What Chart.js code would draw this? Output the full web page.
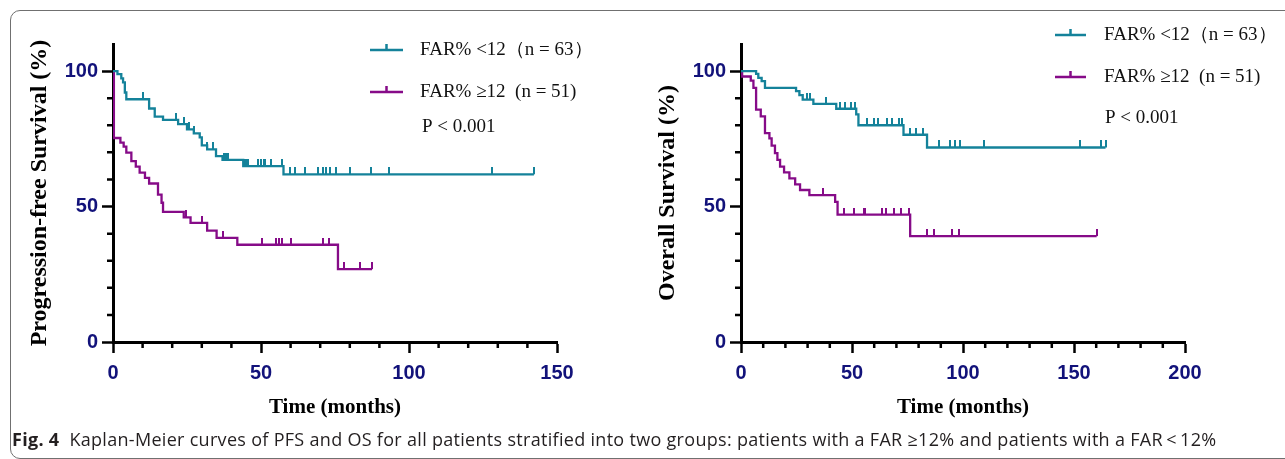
<!DOCTYPE html>
<html>
<head>
<meta charset="utf-8">
<script src="https://cdn.jsdelivr.net/npm/chart.js@4"></script>
<style>
  html, body { margin: 0; padding: 0; background: #fff; }
  body { width: 1285px; height: 459px; position: relative; overflow: hidden; }
  #frame { position: absolute; left: 10px; top: 10px; width: 1300px; height: 447px;
           border: 1px solid #707070; border-radius: 10px; }
  canvas { position: absolute; top: 0; }
  #pfsChart { left: 0; }
  #osChart { left: 640px; }
  #caption { position: absolute; left: 12px; top: 427px; font-family: 'Open Sans', sans-serif;
             font-size: 18px; letter-spacing: 0.3px; color: #231f20; white-space: nowrap; }
  #caption b { font-weight: 700; }
</style>
</head>
<body>
<div id="frame"></div>
<canvas id="pfsChart" width="640" height="459"></canvas>
<canvas id="osChart" width="645" height="459"></canvas>
<div id="caption"><b>Fig. 4</b>&nbsp; Kaplan-Meier curves of PFS and OS for all patients stratified into two groups: patients with a FAR ≥12% and patients with a FAR&#8201;&lt;&#8201;12%</div>

<script>
const TEAL = '#14829a';
const PURPLE = '#860b88';
const NAVY = '#12127a';

const groupLabels = ['FAR% <12（n = 63）', 'FAR% ≥12  (n = 51)'];
const pValueText = 'P < 0.001';

const yTickLabels = [0, 50, 100];
const yMinor = [10, 20, 30, 40, 60, 70, 80, 90];

// PFS, FAR% < 12
const pfsLowTimes = [1.5, 2.8, 3.4, 4.0, 4.5, 12.2, 14.1, 16.9, 22.0, 25.0, 27.3, 29.3, 30.0, 31.8, 34.8, 37.0, 44.0, 57.6];
const pfsLowSurv  = [98.9, 97.3, 95.8, 92.1, 89.6, 86.2, 83.2, 82.0, 80.4, 78.5, 77.0, 75.5, 72.6, 71.1, 68.6, 67.2, 64.9, 61.9];
const pfsLowEnd = 142.2;
const pfsLowCensor = [10.2, 21.2, 24, 25.7, 27.3, 31.8, 33.9, 37.5, 38.3, 39, 44.6, 45.2, 45.7, 49, 50, 51, 51.4, 53.3, 57,
                      59.8, 61.4, 65, 69.4, 71, 72, 73.4, 75.2, 80, 87, 93.2, 128.2, 142.2];
// PFS, FAR% >= 12
const pfsHighTimes = [0.3, 2.5, 3.6, 4.5, 6.2, 7.7, 9.0, 10.8, 12.2, 15.2, 16.4, 16.9, 23.9, 26.2, 31.8, 35.0, 42.0, 76.0];
const pfsHighSurv  = [75.3, 73.6, 72.1, 69.9, 66.8, 64.7, 62.5, 60.6, 58.5, 54.4, 51.4, 48.0, 46.0, 44.0, 41.1, 38.4, 35.9, 26.9];
const pfsHighEnd = 87.5;
const pfsHighCensor = [24.6, 30, 37.2, 50.2, 55, 56, 57, 60, 70.9, 73.1, 78, 83.3, 87.5];
const pfsXTicks = [0, 50, 100, 150];
const pfsXMinor = [10, 20, 30, 40, 60, 70, 80, 90, 110, 120, 130, 140];

// OS, FAR% < 12
const osLowTimes = [6.8, 7.8, 9.3, 10.8, 24.8, 26.3, 27.8, 32.6, 42.9, 51.9, 52.9, 73.2, 83.8];
const osLowSurv  = [99.0, 97.5, 96.3, 93.8, 92.6, 91.1, 89.5, 87.9, 86.1, 84.0, 80.0, 76.5, 71.8];
const osLowEnd = 164.2;
const osLowCensor = [29.6, 31.2, 38.3, 44.7, 47, 49.6, 51.4, 56.7, 59.7, 61.6, 65.7, 68, 71, 72.5, 76.2, 79, 82, 89,
                     94.3, 96.5, 98.8, 109.3, 152.9, 162, 164.2];
// OS, FAR% >= 12
const osHighTimes = [0.5, 4.4, 5.6, 6.8, 8.9, 10.8, 12.8, 13.8, 15.3, 16.4, 17.6, 19.4, 21.8, 24.4, 26.6, 30.8, 42.4, 43.5, 76.2];
const osHighSurv  = [98.0, 96.5, 93.8, 85.8, 83.3, 77.1, 75.2, 72.5, 69.7, 67.2, 64.7, 62.6, 60.4, 58.2, 56.1, 54.2, 51.7, 47.0, 39.1];
const osHighEnd = 160.2;
const osHighCensor = [36.8, 46.2, 51, 55.2, 56, 63.5, 65.4, 68.7, 72, 75.5, 84, 87, 95, 98, 160.2];
const osXTicks = [0, 50, 100, 150, 200];
const osXMinor = [10, 20, 30, 40, 60, 70, 80, 90, 110, 120, 130, 140, 160, 170, 180, 190];

function kmSteps(times, surv, end) {
  const pts = [{x: 0, y: 100}];
  times.forEach((t, i) => pts.push({x: t, y: surv[i]}));
  pts.push({x: end, y: surv[surv.length - 1]});
  return pts;
}

function survAt(times, surv, t) {
  let s = 100;
  times.forEach((ti, i) => { if (ti <= t) s = surv[i]; });
  return s;
}

// small upward tick for censored patients
function censorMark(color) {
  const c = document.createElement('canvas');
  c.width = 2; c.height = 14;
  const g = c.getContext('2d');
  g.fillStyle = color;
  g.fillRect(0, 0, 2, 7);
  return c;
}

function kmDatasets(times1, surv1, end1, cens1, times2, surv2, end2, cens2) {
  const line = (label, color, data) => ({
    label: label, data: data, borderColor: color, borderWidth: 2.3,
    stepped: 'before', pointRadius: 0, fill: false
  });
  const marks = (color, times, surv, cens) => ({
    label: '', data: cens.map(t => ({x: t, y: survAt(times, surv, t)})),
    showLine: false, pointStyle: censorMark(color), pointRadius: 3, borderColor: color
  });
  return [
    line(groupLabels[0], TEAL, kmSteps(times1, surv1, end1)),
    line(groupLabels[1], PURPLE, kmSteps(times2, surv2, end2)),
    marks(TEAL, times1, surv1, cens1),
    marks(PURPLE, times2, surv2, cens2)
  ];
}

const minorTicks = {
  id: 'minorTicks',
  afterDraw(chart, args, opts) {
    const ctx = chart.ctx, xs = chart.scales.x, ys = chart.scales.y;
    ctx.save();
    ctx.strokeStyle = '#000';
    ctx.lineWidth = 2.5;
    ctx.beginPath();
    opts.x.forEach(v => {
      const px = xs.getPixelForValue(v);
      ctx.moveTo(px, ys.bottom); ctx.lineTo(px, ys.bottom + 6);
    });
    opts.y.forEach(v => {
      const py = ys.getPixelForValue(v);
      ctx.moveTo(xs.left, py); ctx.lineTo(xs.left - 6, py);
    });
    ctx.stroke();
    ctx.restore();
  }
};

const kmLegend = {
  id: 'kmLegend',
  afterDraw(chart, args, o) {
    const ctx = chart.ctx;
    ctx.save();
    ctx.font = '19px "Liberation Serif"';
    ctx.textBaseline = 'middle';
    chart.data.datasets.slice(0, 2).forEach((ds, i) => {
      const yy = o.rows[i];
      const mid = (o.x0 + o.x1) / 2;
      ctx.strokeStyle = ds.borderColor;
      ctx.lineWidth = 2.5;
      ctx.beginPath();
      ctx.moveTo(o.x0, yy); ctx.lineTo(o.x1, yy);
      ctx.moveTo(mid, yy); ctx.lineTo(mid, yy - 6);
      ctx.stroke();
      ctx.fillStyle = '#111';
      ctx.fillText(ds.label, o.textX, yy);
    });
    ctx.fillText(pValueText, o.pX, o.pY);
    ctx.restore();
  }
};

function makeChart(id, datasets, cfg) {
  const tickFont = {family: '"Liberation Sans", Arial', size: 20, weight: 'bold'};
  const serif = '"Liberation Serif", "Times New Roman"';
  return new Chart(document.getElementById(id), {
    type: 'line',
    data: {datasets: datasets},
    plugins: [minorTicks, kmLegend],
    options: {
      responsive: false,
      animation: false,
      events: [],
      layout: {padding: {left: 0, top: 44, right: cfg.padRight, bottom: 0}},
      plugins: {
        legend: {display: false},
        tooltip: {enabled: false},
        minorTicks: {x: cfg.xMinor, y: yMinor},
        kmLegend: cfg.legend
      },
      scales: {
        x: {
          type: 'linear', min: 0, max: cfg.xMax,
          afterBuildTicks: s => { s.ticks = cfg.xTicks.map(v => ({value: v})); },
          afterFit: s => { s.height = 117; },
          grid: {drawOnChartArea: false, tickLength: 11, tickWidth: 2.5, tickColor: '#000'},
          border: {color: '#000', width: 3},
          ticks: {color: NAVY, font: tickFont, padding: 8, maxRotation: 0},
          title: {display: true, text: 'Time (months)', color: '#000',
                  font: {family: serif, size: 21, weight: 'bold'},
                  padding: {top: 0, bottom: 39}}
        },
        y: {
          min: 0, max: 110,
          afterBuildTicks: s => { s.ticks = yTickLabels.map(v => ({value: v})); },
          afterFit: s => { s.width = cfg.yWidth; },
          grid: {drawOnChartArea: false, tickLength: 11, tickWidth: 2.5, tickColor: '#000'},
          border: {color: '#000', width: 3},
          ticks: {color: NAVY, font: tickFont, padding: 4},
          title: {display: true, text: cfg.yTitle, color: '#000',
                  font: {family: serif, size: 24, weight: 'bold'},
                  padding: {top: cfg.yTitlePad, bottom: 0}}
        }
      }
    }
  });
}

makeChart('pfsChart',
  kmDatasets(pfsLowTimes, pfsLowSurv, pfsLowEnd, pfsLowCensor, pfsHighTimes, pfsHighSurv, pfsHighEnd, pfsHighCensor),
  {xMax: 150, xTicks: pfsXTicks, xMinor: pfsXMinor, padRight: 83, yWidth: 113, yTitlePad: 25,
   yTitle: 'Progression-free Survival (%)',
   legend: {x0: 370, x1: 403, textX: 420, rows: [50, 92], pX: 422, pY: 127}});

makeChart('osChart',
  kmDatasets(osLowTimes, osLowSurv, osLowEnd, osLowCensor, osHighTimes, osHighSurv, osHighEnd, osHighCensor),
  {xMax: 200, xTicks: osXTicks, xMinor: osXMinor, padRight: 100, yWidth: 101, yTitlePad: 13,
   yTitle: 'Overall Survival (%)',
   legend: {x0: 415, x1: 446, textX: 464, rows: [35, 77], pX: 465, pY: 118}});
</script>
</body>
</html>
